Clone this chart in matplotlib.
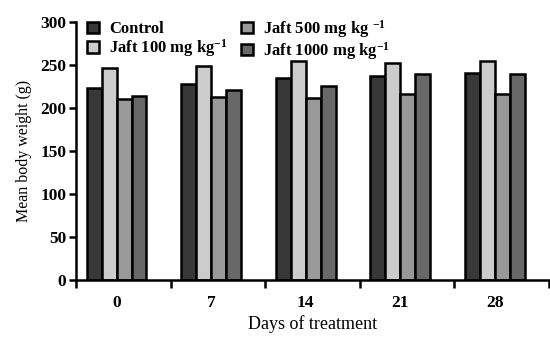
import matplotlib.pyplot as plt
import numpy as np

plt.rcParams['font.family'] = ['Liberation Serif', 'DejaVu Serif']
plt.rcParams['mathtext.fontset'] = 'custom'
plt.rcParams['mathtext.rm'] = 'Liberation Serif:bold'
plt.rcParams['mathtext.default'] = 'rm'

# datos
dias = ['0', '7', '14', '21', '28']
control = [223, 227, 235, 237, 240]
jaft100 = [246, 248, 254, 252, 254]
jaft500 = [210, 212, 211, 216, 216]
jaft1000 = [214, 220, 225, 239, 239]

series = [control, jaft100, jaft500, jaft1000]
nombres = ['Control', r'Jaft 100 mg kg$^{-1}$', r'Jaft 500 mg kg $^{-1}$', r'Jaft 1000 mg kg$^{-1}$']
colores = ['#383838', '#cccccc', '#999999', '#686868']

fig = plt.figure(figsize=(5.5, 3.37), dpi=100)
ax = fig.add_axes([0.138, 0.169, 0.860, 0.767])

x = np.arange(len(dias))
ancho = 0.158
for i, (vals, nom, col) in enumerate(zip(series, nombres, colores)):
    ax.bar(x + (i - 1.5) * ancho, vals, ancho, color=col, edgecolor='black',
           linewidth=1.8, label=nom)

ax.set_ylim(0, 300)
ax.set_yticks(range(0, 301, 50))
ax.set_xlim(-0.43, len(dias) - 0.43)
ax.set_xticks(x)
ax.set_xticklabels(dias)
ax.set_xticks(np.arange(len(dias) + 1) - 0.43, minor=True)
ax.tick_params(axis='x', which='major', length=0, pad=11)
ax.tick_params(axis='x', which='minor', length=6, width=1.8, direction='out')
ax.tick_params(axis='y', length=5, width=1.8, direction='out', pad=2)
for lab in ax.get_xticklabels() + ax.get_yticklabels():
    lab.set_fontsize(12.5)
    lab.set_fontweight('bold')

for s in ['top', 'right']:
    ax.spines[s].set_visible(False)
for s in ['left', 'bottom']:
    ax.spines[s].set_linewidth(1.8)

ax.set_ylabel('Mean body weight (g)', fontsize=11.5, labelpad=6)
ax.set_xlabel('Days of treatment', fontsize=13, labelpad=3)

ax.legend(ncol=2, loc='upper left', bbox_to_anchor=(0.01, 1.04), frameon=False,
          prop={'weight': 'bold', 'size': 12}, handlelength=0.7, handleheight=0.7,
          handletextpad=0.6, columnspacing=0.8, labelspacing=0.0, borderaxespad=0)

fig.savefig('out.png', dpi=100)
